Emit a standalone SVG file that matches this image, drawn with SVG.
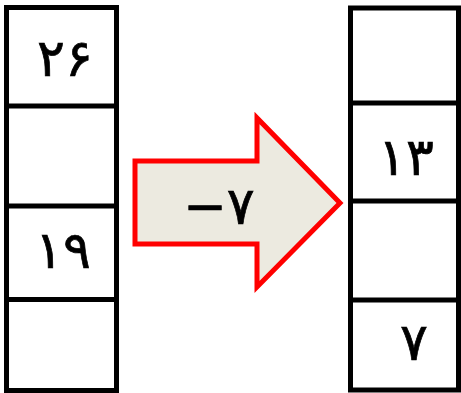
<svg xmlns="http://www.w3.org/2000/svg" width="461" height="393" viewBox="0 0 461 393">
  <style>
    .box { fill: #ffffff; stroke: #000000; stroke-width: 5; }
    .div { stroke: #000000; stroke-width: 5; fill: none; }
    .num { font-family: "DejaVu Sans", "Noto Sans", sans-serif; font-size: 52px; fill: #000000; stroke: #000000; stroke-width: 0.7; text-anchor: middle; letter-spacing: 8px; }
  </style>
  <rect width="461" height="393" fill="#ffffff"/>
  <g id="left-column">
    <rect class="box" x="6.5" y="7.5" width="110" height="383"/>
    <line class="div" x1="6.5" y1="106" x2="116.5" y2="106"/>
    <line class="div" x1="6.5" y1="206" x2="116.5" y2="206"/>
    <line class="div" x1="6.5" y1="299.5" x2="116.5" y2="299.5"/>
    <text class="num" x="65" y="76">۲۶</text>
    <text class="num" x="63" y="268">۱۹</text>
  </g>
  <g id="arrow">
    <polygon points="135,161 257,161 257,118 340,203 257,287 257,244 135,244" fill="#ECEAE0" stroke="#FF0000" stroke-width="5"/>
    <text class="num" x="219" y="224" style="letter-spacing:5px">−۷</text>
  </g>
  <g id="right-column">
    <rect class="box" x="350.5" y="8" width="108" height="382"/>
    <line class="div" x1="350.5" y1="103" x2="458.5" y2="103"/>
    <line class="div" x1="350.5" y1="201" x2="458.5" y2="201"/>
    <line class="div" x1="350.5" y1="300" x2="458.5" y2="300"/>
    <text class="num" x="406" y="175">۱۳</text>
    <text class="num" x="414" y="360">۷</text>
  </g>
  <g id="connectors"/>
</svg>
